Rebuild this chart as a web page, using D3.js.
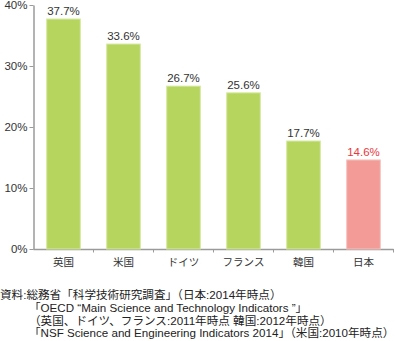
<!DOCTYPE html>
<html>
<head>
<meta charset="utf-8">
<script src="https://cdn.jsdelivr.net/npm/d3@7"></script>
<style>
  html, body { margin: 0; padding: 0; background: #fff; }
  svg { display: block; font-family: "Liberation Sans", "Noto Sans CJK JP", sans-serif; }
</style>
</head>
<body>
<svg id="chart" width="395" height="341"></svg>
<script>
// 研究者に占める女性の割合（国別）
const countries = ["英国", "米国", "ドイツ", "フランス", "韓国", "日本"];
const shares = [37.7, 33.6, 26.7, 25.6, 17.7, 14.6];
const highlight = ["日本"];
const yTicks = [0, 10, 20, 30, 40];
const sourceLines = [
  "資料:総務省「科学技術研究調査」（日本:2014年時点）",
  "「OECD “Main Science and Technology Indicators ”」",
  "（英国、ドイツ、フランス:2011年時点 韓国:2012年時点）",
  "「NSF Science and Engineering Indicators 2014」（米国:2010年時点）"
];

const svg = d3.select("#chart");
const axisColor = "#9a9a9a";

const x = d3.scaleBand()
  .domain(countries)
  .range([33.5, 393.5])
  .paddingInner(0.44)
  .paddingOuter(0.22);

const y = d3.scaleLinear()
  .domain([0, 40])
  .range([249, 5]);

// y軸
const yAxis = svg.append("g")
  .attr("transform", "translate(33.5,0)")
  .call(d3.axisLeft(y).tickValues(yTicks).tickSize(4).tickSizeOuter(0)
    .tickFormat(d => d + "%"));
yAxis.select(".domain").attr("stroke", axisColor).attr("stroke-width", 1.5);
yAxis.selectAll(".tick line").attr("stroke", axisColor);
yAxis.selectAll(".tick text")
  .attr("x", -6)
  .attr("fill", "#333")
  .style("font-size", "11.5px")
  .style("font-family", "Liberation Sans, sans-serif");

// x軸（区切り目盛り）
const boundaries = countries.map(c => x(c) - x.step() * 0.22).concat([x.range()[1]]);
svg.append("line")
  .attr("x1", 33.5).attr("x2", x.range()[1])
  .attr("y1", y(0) + 0.5).attr("y2", y(0) + 0.5)
  .attr("stroke", axisColor).attr("stroke-width", 1.5);
svg.selectAll(".xtick")
  .data(boundaries.slice(1))
  .join("line")
  .attr("class", "xtick")
  .attr("x1", d => d).attr("x2", d => d)
  .attr("y1", y(0)).attr("y2", y(0) + 3.5)
  .attr("stroke", axisColor);

// 棒
svg.selectAll(".bar")
  .data(countries)
  .join("rect")
  .attr("class", "bar")
  .attr("x", c => x(c))
  .attr("width", x.bandwidth())
  .attr("y", (c, i) => y(shares[i]))
  .attr("height", (c, i) => y(0) - y(shares[i]))
  .attr("fill", c => highlight.includes(c) ? "#f29b97" : "#b6d55f")
  .attr("stroke", c => highlight.includes(c) ? "#f7c3c0" : "#d6e8a0")
  .attr("stroke-width", 1);

// 値ラベル
svg.selectAll(".val")
  .data(countries)
  .join("text")
  .attr("class", "val")
  .attr("x", c => x(c) + x.bandwidth() / 2)
  .attr("y", (c, i) => y(shares[i]) - 4)
  .attr("text-anchor", "middle")
  .attr("fill", c => highlight.includes(c) ? "#e8383d" : "#333")
  .style("font-size", "11.5px")
  .style("font-family", "Liberation Sans, sans-serif")
  .text((c, i) => shares[i].toFixed(1) + "%");

// 国名
svg.selectAll(".cat")
  .data(countries)
  .join("text")
  .attr("class", "cat")
  .attr("x", c => x(c) + x.bandwidth() / 2)
  .attr("y", 266)
  .attr("text-anchor", "middle")
  .attr("fill", "#333")
  .style("font-size", "10.5px")
  .text(c => c);

// 出典
svg.selectAll(".src")
  .data(sourceLines)
  .join("text")
  .attr("class", "src")
  .attr("x", (d, i) => i === 0 ? 0 : 29)
  .attr("y", (d, i) => 299 + i * 12.8)
  .attr("fill", "#222")
  .style("font-size", "11.6px")
  .text(d => d);
</script>
</body>
</html>
